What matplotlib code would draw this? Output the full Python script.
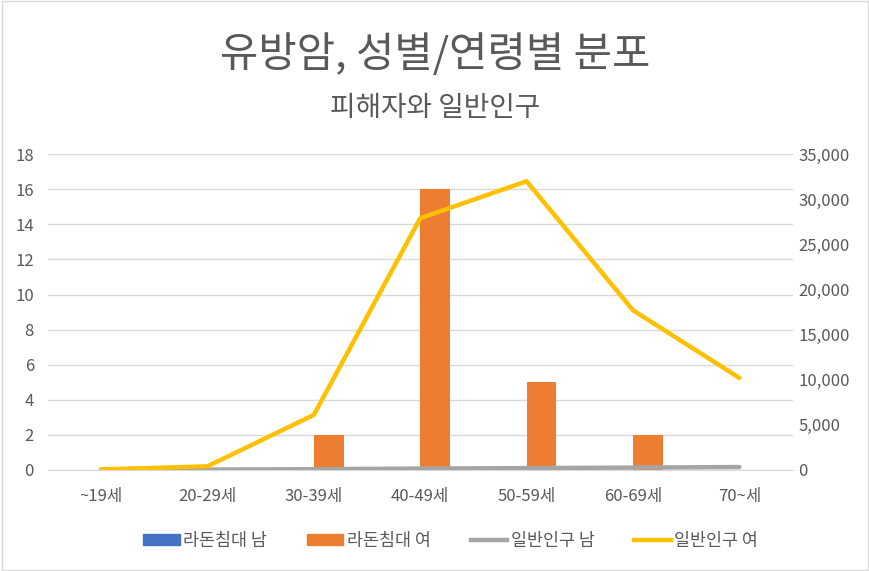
import matplotlib
matplotlib.use("Agg")
import matplotlib.pyplot as plt
from matplotlib.ticker import FuncFormatter, MultipleLocator
from matplotlib.patches import Patch
from matplotlib.lines import Line2D
import numpy as np

plt.rcParams['font.family'] = ['Noto Sans CJK KR', 'DejaVu Sans']

categories = ['~19세', '20-29세', '30-39세', '40-49세', '50-59세', '60-69세', '70~세']
radon_male = [0, 0, 0, 0, 0, 0, 0]
radon_female = [0, 0, 2, 16, 5, 2, 0]
pop_male = [20, 40, 80, 150, 200, 260, 320]
pop_female = [50, 400, 6100, 27900, 32000, 17700, 10200]

c_blue = '#4472C4'
c_orange = '#ED7D31'
c_gray = '#A5A5A5'
c_yellow = '#FFC000'
c_text = '#595959'

fig = plt.figure(figsize=(8.7, 5.71), dpi=100)
ax = fig.add_axes([0.055, 0.177, 0.856, 0.553])
ax2 = ax.twinx()

x = np.arange(len(categories))
w = 0.28
ax.bar(x - w / 2, radon_male, width=w, color=c_blue, zorder=3)
ax.bar(x + w / 2, radon_female, width=w, color=c_orange, zorder=3)

ax2.plot(x, pop_male, color=c_gray, lw=3.2, solid_capstyle='round', zorder=4)
ax2.plot(x, pop_female, color=c_yellow, lw=3.2, solid_capstyle='round', zorder=5)

ax.set_xlim(-0.5, len(categories) - 0.5)
ax.set_ylim(0, 18)
ax.yaxis.set_major_locator(MultipleLocator(2))
ax2.set_ylim(0, 35000)
ax2.yaxis.set_major_locator(MultipleLocator(5000))
ax2.yaxis.set_major_formatter(FuncFormatter(lambda v, p: f'{int(v):,}'))

ax.set_xticks(x)
ax.set_xticklabels(categories)
ax.grid(axis='y', color='#D9D9D9', lw=1, zorder=0)
ax.set_axisbelow(True)

for a in (ax, ax2):
    for s in a.spines.values():
        s.set_visible(False)
    a.tick_params(length=0, colors=c_text, labelsize=12)
ax.spines['bottom'].set_visible(True)
ax.spines['bottom'].set_color('#D9D9D9')
ax.tick_params(axis='x', pad=13)
ax.tick_params(axis='y', pad=10)
ax2.tick_params(axis='y', pad=4)

fig.text(0.5, 0.905, '유방암, 성별/연령별 분포', ha='center', va='center',
         fontsize=30, color=c_text)
fig.text(0.5, 0.81, '피해자와 일반인구', ha='center', va='center',
         fontsize=20, color=c_text)

handles = [Patch(color=c_blue), Patch(color=c_orange),
           Line2D([], [], color=c_gray, lw=3.2),
           Line2D([], [], color=c_yellow, lw=3.2)]
labels = ['라돈침대 남', '라돈침대 여', '일반인구 남', '일반인구 여']
fig.legend(handles, labels, loc='center', bbox_to_anchor=(0.518, 0.053), ncol=4,
           frameon=False, fontsize=12.5, labelcolor=c_text, handlelength=2.1,
           handleheight=0.6, handletextpad=0.2, columnspacing=2.3)

fig.patches.append(plt.Rectangle((0.002, 0.002), 0.996, 0.996, transform=fig.transFigure,
                                 fill=False, edgecolor='#D9D9D9', lw=1))

fig.savefig('out.png', dpi=100)
